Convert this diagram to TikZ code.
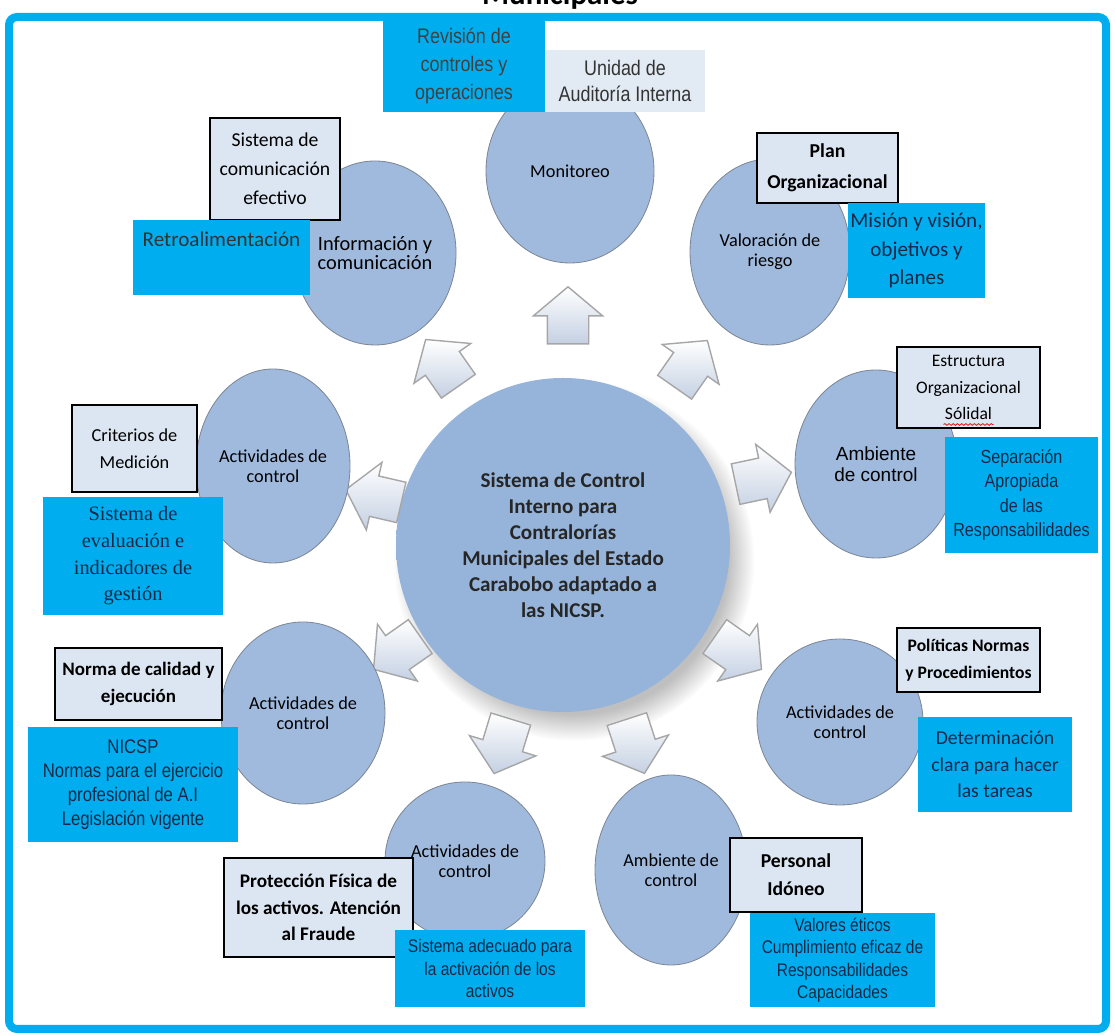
\documentclass[tikz,border=0pt]{standalone}
\usepackage{fontspec}
\setmainfont{Carlito}
\newfontfamily\narrowfont[FakeStretch=0.85]{Liberation Sans}
\newfontfamily\arialfont{Liberation Sans}
\newfontfamily\timesfont{Liberation Serif}
\usepackage{tikz}
\usetikzlibrary{shapes.geometric, shapes.arrows, shadows, calc, decorations.pathmorphing}

\definecolor{boxcyan}{RGB}{0,174,239}
\definecolor{palegray}{RGB}{220,230,242}
\definecolor{plainfill}{RGB}{226,234,244}
\definecolor{satblue}{RGB}{160,186,222}
\definecolor{satedge}{RGB}{125,135,150}
\definecolor{coreblue}{RGB}{150,180,218}
\definecolor{corerim}{RGB}{215,238,252}
\definecolor{navytext}{RGB}{25,40,70}
\definecolor{arrowlo}{RGB}{196,208,226}
\definecolor{spellred}{RGB}{220,30,30}

\newdimen\px \px=0.025cm
\newcommand\setfs[2]{\fontsize{#1pt}{#2pt}\selectfont}

% soft light rim round the central circle
\pgfdeclareradialshading{coreglow}{\pgfpoint{0bp}{0bp}}{%
  color(0bp)=(coreblue); color(43bp)=(coreblue); color(48bp)=(corerim); color(50bp)=(corerim)}

\begin{document}
\begin{tikzpicture}[
      x=0.025cm, y=0.025cm,
      sat/.style={ellipse, draw=satedge, line width=0.6pt, fill=satblue,
                  inner sep=0pt, align=center, text=black,
                  font=\setfs{13}{14.5}},
      cyanbox/.style={rectangle, fill=boxcyan, inner sep=0pt, align=center},
      palebox/.style={rectangle, fill=palegray, draw=black, line width=1.1pt,
                      inner sep=0pt, align=center},
      plainbox/.style={rectangle, fill=plainfill, inner sep=0pt, align=center},
      blk/.style={single arrow, single arrow head extend=14\px,
                  single arrow tip angle=100, inner xsep=0pt, inner ysep=20\px,
                  minimum height=57\px, draw=gray!70, line width=1pt,
                  top color=white, bottom color=arrowlo}
    ]
      \useasboundingbox (0,0) rectangle (1115,1036);

      \node[font=\bfseries\setfs{22}{24}, anchor=base] (title) at (560,1031) {Municipales};

      % centre
      \node[circle, minimum size=334\px, inner sep=0pt, shading=coreglow,
            circular drop shadow={shadow xshift=10\px, shadow yshift=-14\px,
                                  shadow scale=1.08, opacity=.5},
            align=center, text=black!85, font=\bfseries\setfs{15}{18.5}] (core) at (563,491)
            {Sistema de Control\\ Interno para\\ Contralorías\\ Municipales del Estado\\ Carabobo adaptado a\\ las NICSP.};

      % arrows out of the centre
      \node[blk, rotate=90]   (a1) at (568,712) {};
      \node[blk, rotate=55]   (a2) at (686,665) {};
      \node[blk, rotate=12]   (a3) at (755,556) {};
      \node[blk, rotate=-35]  (a4) at (731,388) {};
      \node[blk, rotate=-72]  (a5) at (633,298) {};
      \node[blk, rotate=-107] (a6) at (505,298) {};
      \node[blk, rotate=-145] (a7) at (404,388) {};
      \node[blk, rotate=167]  (a8) at (382,538) {};
      \node[blk, rotate=125]  (a9) at (447,666) {};

      % components
      \node[sat, minimum width=168\px, minimum height=184\px] (monit) at (570,865) {Monitoreo};
      \node[sat, minimum width=160\px, minimum height=186\px] (valor) at (770,784) {Valoración de\\ riesgo};
      \node[sat, minimum width=162\px, minimum height=188\px, font=\arialfont\setfs{13.5}{15}] (ambR) at (876,572) {Ambiente\\ de control};
      \node[sat, minimum width=166\px, minimum height=166\px] (actR) at (840,314) {Actividades de\\ control};
      \node[sat, minimum width=152\px, minimum height=190\px] (ambB) at (671,166) {Ambiente de\\ control};
      \node[sat, minimum width=160\px, minimum height=158\px] (actB) at (465,175) {Actividades de\\ control};
      \node[sat, minimum width=164\px, minimum height=182\px] (actLL) at (303,323) {Actividades de\\ control};
      \node[sat, minimum width=154\px, minimum height=194\px] (actLU) at (273,570) {Actividades de\\ control};
      \node[sat, minimum width=156\px, minimum height=184\px, font=\setfs{14.5}{13.5}] (info) at (375,783) {Información y\\ comunicación};

      % notes
      \node[cyanbox, minimum width=162\px, minimum height=92\px, text=black!75, font=\narrowfont\setfs{15}{20}] (rev) at (464,970) {Revisión de\\ controles y\\ operaciones};
      \node[plainbox, minimum width=160\px, minimum height=62\px, text=black!80, font=\narrowfont\setfs{15}{19}] (unid) at (625,955) {Unidad de\\ Auditoría Interna};
      \node[palebox, minimum width=130\px, minimum height=102\px, font=\setfs{14}{20.5}] (sistcom) at (275,867) {Sistema de\\ comunicación\\ efectivo};
      \node[cyanbox, minimum width=177\px, minimum height=75\px, text=black!80, font=\setfs{15}{20}] (retro) at (221.5,778.5) {Retroalimentación\\ \strut};
      \node[palebox, minimum width=141\px, minimum height=70\px, font=\bfseries\setfs{14}{22}] (plan) at (827.5,868) {Plan\\ Organizacional};
      \node[cyanbox, minimum width=137\px, minimum height=95\px, text=navytext, font=\setfs{15}{20}] (mision) at (916.5,785.5) {Misión y visión,\\ objetivos y\\ planes};
      \node[palebox, minimum width=143\px, minimum height=81\px, font=\setfs{12.5}{19}] (estruc) at (968.5,648.5) {Estructura\\ Organizacional\\ Sólidal};
      \draw[spellred, line width=0.6pt, decorate, decoration={snake, amplitude=0.6pt, segment length=3pt}]
        ($(estruc)+(-25,-37)$) -- ($(estruc)+(25,-37)$);
      \node[cyanbox, minimum width=153\px, minimum height=116\px, text=navytext, font=\narrowfont\setfs{13.5}{17.5}] (separ) at (1021.5,541) {Separación\\ Apropiada\\ de las\\ Responsabilidades};
      \node[palebox, minimum width=125\px, minimum height=87\px, font=\setfs{13}{19}] (crit) at (134.5,587.5) {Criterios de\\ Medición};
      \node[cyanbox, minimum width=180\px, minimum height=118\px, text=navytext, font=\timesfont\setfs{14.5}{19}] (evalu) at (133,480) {Sistema de\\ evaluación e\\ indicadores de\\ gestión};
      \node[palebox, minimum width=167\px, minimum height=72\px, font=\bfseries\setfs{13.5}{19}] (norma) at (138.5,352) {Norma de calidad y\\ ejecución};
      \node[cyanbox, minimum width=210\px, minimum height=115\px, text=navytext, font=\narrowfont\setfs{14}{17}] (nicsp) at (133,251.5) {NICSP\\ Normas para el ejercicio\\ profesional de A.I\\ Legislación vigente};
      \node[palebox, minimum width=189\px, minimum height=99\px, font=\bfseries\setfs{13.7}{19}] (protec) at (318.5,128.5) {Protección Física de\\ los activos. Atención\\ al Fraude};
      \node[cyanbox, minimum width=190\px, minimum height=77\px, text=navytext, font=\narrowfont\setfs{13}{16}] (adecu) at (490,67.5) {Sistema adecuado para\\ la activación de los\\ activos};
      \node[palebox, minimum width=132\px, minimum height=74\px, font=\bfseries\setfs{14}{20}] (personal) at (796,161) {Personal\\ Idóneo};
      \node[cyanbox, minimum width=185\px, minimum height=94\px, text=navytext, font=\narrowfont\setfs{13}{16}] (valores) at (842.5,76) {Valores éticos\\ Cumplimiento eficaz de\\ Responsabilidades\\ Capacidades};
      \node[palebox, minimum width=143\px, minimum height=64\px, font=\bfseries\setfs{12.5}{19}] (polit) at (968.5,376) {Políticas Normas\\ y Procedimientos};
      \node[cyanbox, minimum width=154\px, minimum height=95\px, text=navytext, font=\setfs{14}{19}] (determ) at (995,271.5) {Determinación\\ clara para hacer\\ las tareas};

      % frame
      \draw[boxcyan, line width=8\px, rounded corners=8\px] (9,7) rectangle (1106,1019);
    \end{tikzpicture}
\end{document}
